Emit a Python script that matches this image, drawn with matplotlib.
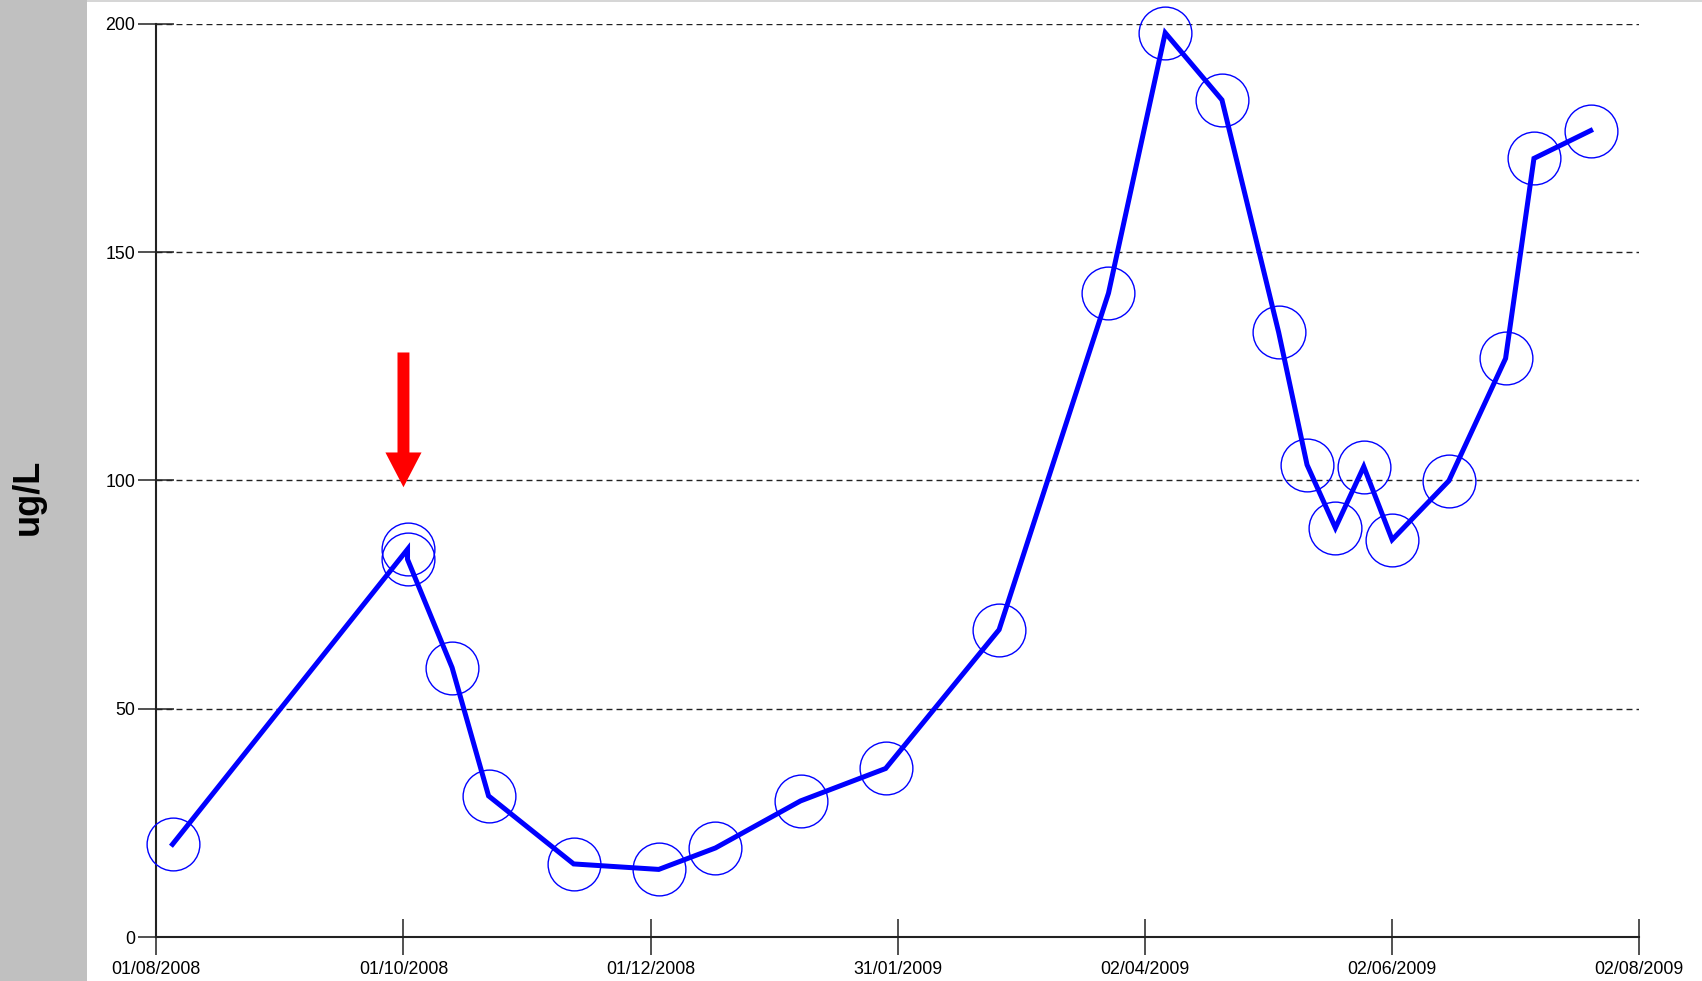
import datetime as dt
import matplotlib
matplotlib.use("Agg")
import matplotlib.pyplot as plt
import matplotlib.dates as mdates
from matplotlib.patches import Rectangle

plt.rcParams['font.family'] = ['Liberation Sans', 'DejaVu Sans']

# sample dates and concentrations (ug/L)
fechas = ["2008-08-05", "2008-10-02", "2008-10-02", "2008-10-13", "2008-10-22",
          "2008-11-12", "2008-12-03", "2008-12-17", "2009-01-07", "2009-01-28",
          "2009-02-25", "2009-03-24", "2009-04-07", "2009-04-21", "2009-05-05",
          "2009-05-12", "2009-05-19", "2009-05-26", "2009-06-02", "2009-06-16",
          "2009-06-30", "2009-07-07", "2009-07-21"]
valores = [20.3, 84.9, 82.7, 59.0, 30.9,
           16.0, 14.8, 19.5, 29.8, 36.9,
           67.3, 141.0, 198.0, 183.3, 132.4,
           103.4, 89.6, 103.0, 87.0, 99.9,
           126.7, 170.5, 176.6]

# axis ticks
ticks_x = ["2008-08-01", "2008-10-01", "2008-12-01", "2009-01-31",
           "2009-04-02", "2009-06-02", "2009-08-02"]
ticks_y = [0, 50, 100, 150, 200]

# arrow marking the event
flecha_fecha = "2008-10-01"
flecha_desde = 128.0
flecha_hasta = 98.5

x = [dt.datetime.strptime(f, "%Y-%m-%d") for f in fechas]
tx = [dt.datetime.strptime(f, "%Y-%m-%d") for f in ticks_x]
fx = dt.datetime.strptime(flecha_fecha, "%Y-%m-%d")

fig = plt.figure(figsize=(17.02, 9.81), dpi=100)
fig.patch.set_facecolor("white")

# grey band on the left + thin top line
fig.patches.append(Rectangle((0, 0), 87 / 1702, 1, transform=fig.transFigure,
                             facecolor="#c0c0c0", edgecolor="none", zorder=0))
fig.patches.append(Rectangle((87 / 1702, 1 - 2 / 981), 1, 2 / 981, transform=fig.transFigure,
                             facecolor="#d6d6d6", edgecolor="none", zorder=0))

ax = fig.add_axes([156.3 / 1702, 44 / 981, (1639.3 - 156.3) / 1702, (937 - 23.7) / 981])
ax.set_facecolor("none")

# line + sample circles
ax.plot(x, valores, color="#0000ff", lw=3.6, solid_joinstyle="miter", zorder=3)
ax.plot(x, valores, linestyle="none", marker="o", markersize=38, mfc="none",
        mec="#0000ff", mew=1.0, clip_on=False, zorder=4)

# red arrow
ax.annotate("", xy=(fx, flecha_hasta), xytext=(fx, flecha_desde),
            arrowprops=dict(arrowstyle="simple,head_length=2.5,head_width=2.6,tail_width=0.86",
                            fc="#ff0000", ec="none", lw=0, mutation_scale=10,
                            shrinkA=0, shrinkB=0), zorder=5)

ax.set_xlim(tx[0], tx[-1])
ax.set_ylim(0, 200)
ax.set_xticks(tx)
ax.xaxis.set_major_formatter(mdates.DateFormatter("%d/%m/%Y"))
ax.set_yticks(ticks_y)

for s in ["top", "right"]:
    ax.spines[s].set_visible(False)
for s in ["left", "bottom"]:
    ax.spines[s].set_linewidth(1.5)
    ax.spines[s].set_color("#222222")

ax.tick_params(axis="both", direction="inout", length=26.5, width=1.1,
               color="#222222", labelsize=12.8, labelcolor="black")
ax.tick_params(axis="x", pad=4)
ax.tick_params(axis="y", pad=2)

ax.yaxis.grid(True, color="#222222", lw=1.0, linestyle=(0, (4.3, 2.9)))
ax.set_axisbelow(True)

fig.text(28 / 1702, 0.493, "ug/L", rotation=90, fontsize=26, fontweight="bold",
         ha="center", va="center")

fig.savefig("out.png", dpi=100)
